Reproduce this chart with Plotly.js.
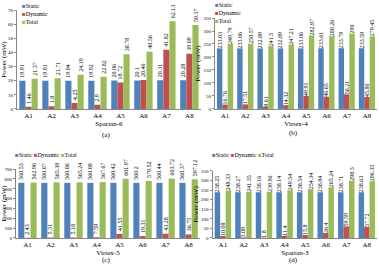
<!DOCTYPE html>
<html>
<head>
<meta charset="utf-8">
<script src="https://cdn.plot.ly/plotly-3.0.1.min.js"></script>
<style>
html,body{margin:0;padding:0;background:#fff;}
#chart{width:379px;height:265px;}
</style>
</head>
<body>
<div id="chart"></div>
<script>
// ---- data ----
const categories = ['A1','A2','A3','A4','A5','A6','A7','A8'];
const seriesNames = ['Static','Dynamic','Total'];

const spartan6Static  = [19.91,19.91,19.94,19.92,20.06,20.1,20.31,20.28];
const spartan6Dynamic = [1.46,1.8,4.25,2.9,18.72,20.46,41.82,39.09];
const spartan6Total   = [21.37,21.71,24.19,22.82,38.78,40.56,62.13,59.37];

const virtex4Static  = [233.03,233.06,232.89,232.89,233.06,233.61,233.79,233.59];
const virtex4Dynamic = [16.76,17.51,8.61,14.32,49.91,46.65,56.21,45.86];
const virtex4Total   = [249.79,250.57,241.5,247.21,282.97,280.26,290,279.45];

const virtex5Static  = [560.53,560.07,560.06,560.08,560.42,560.2,560.44,560.37];
const virtex5Dynamic = [2.43,5.31,5.18,7.59,41.55,19.31,43.28,36.75];
const virtex5Total   = [562.96,565.38,565.24,567.67,601.97,579.52,603.72,597.12];

const spartan3Static  = [238.25,238.27,238.16,238.14,238.54,238.84,238.71,238.63];
const spartan3Dynamic = [10.08,3.08,1.8,11.4,15.8,26.4,59.59,57.72];
const spartan3Total   = [248.33,241.35,239.96,249.54,254.34,265.24,298.3,296.35];

const panelTitles = ['Spartan-6','Virtex-4','Virtex-5','Spartan-3'];
const panelLetters = ['(a)','(b)','(c)','(d)'];
const yTicks = [[0,10,20,30,40,50,60,70],[0,50,100,150,200,250,300,350],[0,100,200,300,400,500,600,700],[0,50,100,150,200,250,300,350]];

// ---- styling ----
const colors = ['#4F81BD','#C0504D','#9BBB59'];
const FONT = 'Liberation Serif, Times New Roman, serif';

const panels = [
  {data:[spartan6Static,spartan6Dynamic,spartan6Total], xd:[0.045,0.530], yd:[0.589,0.962], range:[0,70]},
  {data:[virtex4Static,virtex4Dynamic,virtex4Total], xd:[0.567,0.995], yd:[0.589,0.932], range:[0,350]},
  {data:[virtex5Static,virtex5Dynamic,virtex5Total], xd:[0.042,0.528], yd:[0.102,0.362], range:[0,700]},
  {data:[spartan3Static,spartan3Dynamic,spartan3Total], xd:[0.561,0.995], yd:[0.102,0.355], range:[0,350]}
];

const traces = [];
const layout = {
  width:379, height:265,
  margin:{l:0,r:0,t:0,b:0},
  paper_bgcolor:'#fff', plot_bgcolor:'#fff',
  barmode:'group', bargap:0.2, bargroupgap:0,
  showlegend:false,
  font:{family:FONT, size:6, color:'#000'},
  annotations:[]
};

panels.forEach((p,i)=>{
  const n = i===0 ? '' : String(i+1);
  p.data.forEach((vals,k)=>{
    traces.push({
      type:'bar', x:categories, y:vals, name:seriesNames[k],
      xaxis:'x'+n, yaxis:'y'+n,
      marker:{color:colors[k]},
      text:vals.map(v=>String(v)),
      textposition:'outside', textangle:-90,
      textfont:{family:FONT, size:6, color:'#000'},
      constraintext:'none', cliponaxis:false,
      hoverinfo:'skip'
    });
  });
  layout['xaxis'+n] = {
    domain:p.xd, anchor:'y'+n,
    showline:true, linecolor:'#868686', linewidth:1,
    ticks:'', tickfont:{family:FONT,size:7},
    title:{text:panelTitles[i], font:{family:FONT,size:7}, standoff:0},
    fixedrange:true
  };
  layout['yaxis'+n] = {
    domain:p.yd, anchor:'x'+n, range:p.range,
    tickvals:yTicks[i], showgrid:false, zeroline:false,
    showline:true, linecolor:'#868686', linewidth:1,
    ticks:'outside', ticklen:2, tickcolor:'#868686',
    tickfont:{family:FONT,size:5},
    title:{text:'Power (mW)', font:{family:FONT,size:7}, standoff:1},
    fixedrange:true
  };
});

// legends as compact text
function legendText(sep){
  return seriesNames.map((s,k)=>'<span style="color:'+colors[k]+'">■</span>'+s).join(sep);
}
layout.annotations.push({xref:'paper',yref:'paper',x:0.052,y:0.995,xanchor:'left',yanchor:'top',align:'left',showarrow:false,text:legendText('<br>'),font:{family:FONT,size:6}});
layout.annotations.push({xref:'paper',yref:'paper',x:0.562,y:1.0,xanchor:'left',yanchor:'top',align:'left',showarrow:false,text:legendText('<br>'),font:{family:FONT,size:6}});
layout.annotations.push({xref:'paper',yref:'paper',x:0.035,y:0.415,xanchor:'left',yanchor:'middle',showarrow:false,text:legendText(' '),font:{family:FONT,size:6}});
layout.annotations.push({xref:'paper',yref:'paper',x:0.555,y:0.415,xanchor:'left',yanchor:'middle',showarrow:false,text:legendText(' '),font:{family:FONT,size:6}});

const letterPos = [[0.28,0.492,'middle'],[0.775,0.5,'middle'],[0.28,0.0,'bottom'],[0.775,0.0,'bottom']];
panelLetters.forEach((t,i)=>{
  layout.annotations.push({xref:'paper',yref:'paper',x:letterPos[i][0],y:letterPos[i][1],xanchor:'center',yanchor:letterPos[i][2],showarrow:false,text:t,font:{family:FONT,size:7},borderpad:0});
});

Plotly.newPlot('chart', traces, layout, {staticPlot:true, displayModeBar:false});
</script>
</body>
</html>
